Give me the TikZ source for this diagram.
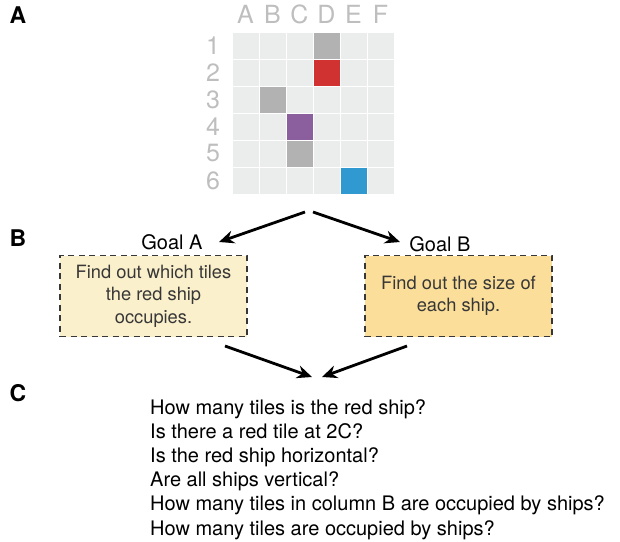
\documentclass[tikz,border=0pt]{standalone}
\usepackage{fontspec}
\setmainfont{TeX Gyre Heros}
\usetikzlibrary{arrows.meta,positioning}
\definecolor{tilegray}{RGB}{235,236,236}
\definecolor{shipgray}{RGB}{178,178,178}
\definecolor{shipred}{RGB}{208,50,50}
\definecolor{shippurple}{RGB}{139,94,158}
\definecolor{shipblue}{RGB}{48,154,208}
\definecolor{labelgray}{RGB}{190,190,190}
\definecolor{goalpale}{RGB}{251,240,204}
\definecolor{goalgold}{RGB}{250,222,154}
\definecolor{boxtext}{RGB}{55,55,55}

\begin{document}
\begin{tikzpicture}[x=1pt,y=-1pt,>={Stealth[length=15pt,width=13pt]}]
        \tikzstyle{cell}=[rectangle,fill=tilegray,inner sep=0pt,minimum size=26pt]
        \tikzstyle{gridlabel}=[text=labelgray,font=\fontsize{25}{25}\selectfont]
        \tikzstyle{panel}=[font=\fontsize{23}{23}\selectfont\bfseries]
        \tikzstyle{goal}=[rectangle,draw=boxtext,dash pattern=on 6pt off 4.5pt,line width=1.8pt,
            minimum width=187pt,minimum height=81pt,align=center,text=boxtext,
            font=\fontsize{18.3}{22.5}\selectfont]
        \tikzstyle{arrow}=[->,line width=2.8pt]
        \useasboundingbox (0,0) rectangle (620,541);

        % Panel letters
        \node[panel] (pA) at (18,15) {A};
        \node[panel] (pB) at (18,238) {B};
        \node[panel] (pC) at (18,393) {C};

        % Board
        \foreach \c in {1,...,6}
            \foreach \r in {1,...,6}
                \node[cell] (c\c\r) at (245.5+27*\c-27,45.5+27*\r-27) {};
        \node[cell,fill=shipgray] (s1) at (c41) {};
        \node[cell,fill=shipred] (s2) at (c42) {};
        \node[cell,fill=shipgray] (s3) at (c23) {};
        \node[cell,fill=shippurple] (s4) at (c34) {};
        \node[cell,fill=shipgray] (s5) at (c35) {};
        \node[cell,fill=shipblue] (s6) at (c56) {};

        % Column and row labels
        \foreach \l [count=\c] in {A,B,C,D,E,F}
            \node[gridlabel] (col\c) at (245.5+27*\c-27,14) {\l};
        \foreach \r in {1,...,6}
            \node[gridlabel] (row\r) at (213,45.5+27*\r-27) {\r};

        % Goals
        \node[font=\fontsize{20}{20}\selectfont] (goalA) at (172,242) {Goal A};
        \node[font=\fontsize{20}{20}\selectfont] (goalB) at (440,244) {Goal B};
        \node[goal,fill=goalpale] (boxA) at (153.5,296) {Find out which tiles\\the red ship\\occupies.};
        \node[goal,fill=goalgold] (boxB) at (458.5,296) {Find out the size of\\each ship.};

        % Arrows
        \coordinate (splitA) at (305,212);
        \coordinate (splitB) at (313,212);
        \coordinate (tipA) at (219,242);
        \coordinate (tipB) at (400,242);
        \coordinate (fromA) at (225,346);
        \coordinate (fromB) at (407,346);
        \coordinate (joinA) at (312,377);
        \coordinate (joinB) at (322,377);
        \draw[arrow] (splitA) -- (tipA);
        \draw[arrow] (splitB) -- (tipB);
        \draw[arrow] (fromA) -- (joinA);
        \draw[arrow] (fromB) -- (joinB);

        % Questions
        \foreach \q [count=\i] in {How many tiles is the red ship?,
            Is there a red tile at 2C?,
            Is the red ship horizontal?,
            Are all ships vertical?,
            How many tiles in column B are occupied by ships?,
            How many tiles are occupied by ships?}
            \node[anchor=base west,inner sep=0pt,font=\fontsize{20}{20}\selectfont] (q\i) at (150,414+24.2*\i-24.2) {\q};
\end{tikzpicture}
\end{document}
